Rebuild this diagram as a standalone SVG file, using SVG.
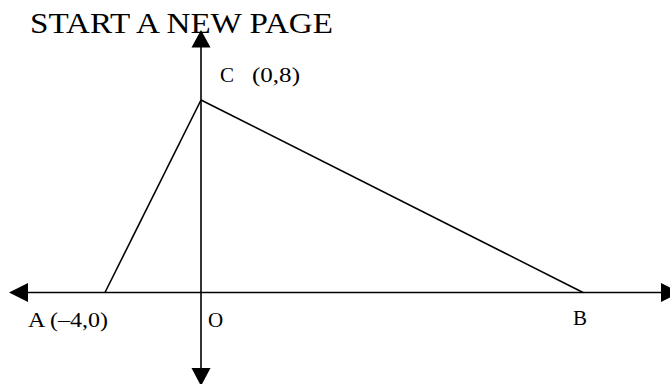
<svg xmlns="http://www.w3.org/2000/svg" width="670" height="384" viewBox="0 0 670 384">
<style>
  text { font-family: "Liberation Serif", "Times New Roman", serif; fill: #000; }
  .title { font-size: 30px; }
  .lbl { font-size: 21px; }
  .ln { stroke: #000; stroke-width: 1.6; fill: none; }
  .ah { fill: #000; stroke: none; }
</style>
<rect width="670" height="384" fill="#fff"/>
<g id="title">
  <text class="title" x="30" y="33" textLength="303" lengthAdjust="spacingAndGlyphs">START A NEW PAGE</text>
</g>
<g id="connectors">
  <line class="ln" x1="20" y1="292.5" x2="665" y2="292.5"/>
  <line class="ln" x1="201" y1="40" x2="201" y2="380"/>
  <line class="ln" x1="105" y1="292.5" x2="201" y2="100"/>
  <line class="ln" x1="201" y1="100" x2="583" y2="292.5"/>
  <polygon class="ah" points="201,30 191.5,47.5 210.5,47.5"/>
  <polygon class="ah" points="201,386 191.5,368 210.5,368"/>
  <polygon class="ah" points="9,292.5 28,283 28,302"/>
  <polygon class="ah" points="680,292.5 661,283 661,302"/>
</g>
<g id="node-C">
  <text class="lbl" x="220" y="82">C</text>
  <text class="lbl" x="252" y="82" textLength="48" lengthAdjust="spacingAndGlyphs">(0,8)</text>
</g>
<g id="node-A">
  <text class="lbl" x="28" y="327" textLength="80" lengthAdjust="spacingAndGlyphs">A (–4,0)</text>
</g>
<g id="node-O">
  <text class="lbl" x="208" y="327">O</text>
</g>
<g id="node-B">
  <text class="lbl" x="573" y="325">B</text>
</g>
</svg>
